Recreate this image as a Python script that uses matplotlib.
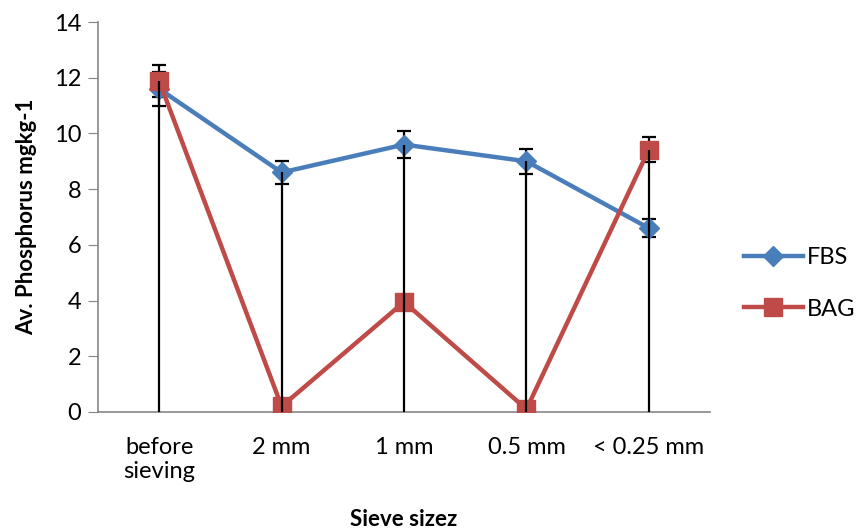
import numpy as np
import matplotlib.pyplot as plt

# sieve size categories
categories = ['before\nsieving', '2 mm', '1 mm', '0.5 mm', '< 0.25 mm']
fbs = [11.6, 8.6, 9.6, 9.0, 6.6]
fbs_err = [0.6, 0.42, 0.48, 0.45, 0.32]
bag = [11.88, 0.2, 3.95, 0.1, 9.42]
bag_err = [0.58, 0.2, 0.2, 0.2, 0.46]

plt.rcParams['font.family'] = ['Lato', 'DejaVu Sans']

fig = plt.figure(figsize=(8.56, 5.32), dpi=100)
ax = fig.add_axes([0.1145, 0.2256, 0.715, 0.733])

x = np.arange(len(categories))
blue = '#4A7EBB'
red = '#BE4B48'

ax.plot(x, fbs, color=blue, lw=3.2, marker='D', ms=10, label='FBS', zorder=3)
ax.plot(x, bag, color=red, lw=3.2, marker='s', ms=13, label='BAG', zorder=3)

# drop lines from the highest point to the axis
ax.vlines(x, 0, np.maximum(fbs, bag), color='black', lw=1.6, zorder=4)

ax.errorbar(x, fbs, yerr=fbs_err, fmt='none', ecolor='black', elinewidth=1.6,
            capsize=5, capthick=1.6, zorder=2.5)
ax.errorbar(x, bag, yerr=bag_err, fmt='none', ecolor='black', elinewidth=1.6,
            capsize=5, capthick=1.6, zorder=2.5)

ax.set_xlim(-0.5, len(categories) - 0.5)
ax.set_ylim(0, 14)
ax.set_yticks(range(0, 15, 2))
ax.set_xticks(x)
ax.set_xticklabels(categories, fontsize=17)
ax.tick_params(axis='x', length=0, pad=18)
ax.tick_params(axis='y', labelsize=17, length=7, color='#868686', pad=5)

for s in ['top', 'right']:
    ax.spines[s].set_visible(False)
for s in ['left', 'bottom']:
    ax.spines[s].set_color('#868686')
    ax.spines[s].set_linewidth(1.2)
ax.spines['bottom'].set_zorder(2)

ax.set_ylabel('Av. Phosphorus mgkg-1', fontsize=16, fontweight='bold', labelpad=12)
ax.set_xlabel('Sieve sizez', fontsize=16, fontweight='bold')
ax.xaxis.set_label_coords(0.5, -0.25)

ax.legend(loc='center left', bbox_to_anchor=(1.02, 0.33), frameon=False,
          fontsize=17, handlelength=2.5, labelspacing=1.3, handletextpad=0.2)

fig.savefig('out.png', dpi=100)
